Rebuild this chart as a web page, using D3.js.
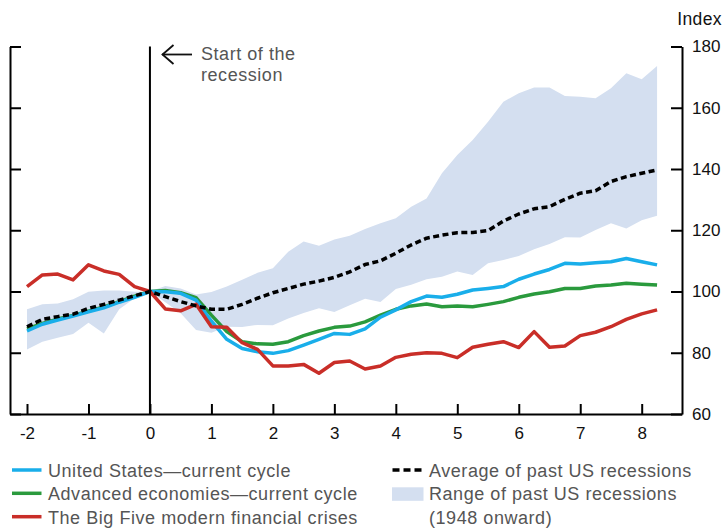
<!DOCTYPE html>
<html>
<head>
<meta charset="utf-8">
<script src="https://cdn.jsdelivr.net/npm/d3@7"></script>
<style>
  html, body { margin: 0; padding: 0; background: #fff; }
  svg { display: block; font-family: "Liberation Sans", Arial, Helvetica, sans-serif; }
</style>
</head>
<body>
<svg id="chart" width="724" height="529"></svg>
<script>
// Quarters relative to start of recession (years)
const quarters = [-2, -1.75, -1.5, -1.25, -1, -0.75, -0.5, -0.25, 0, 0.25, 0.5, 0.75,
  1, 1.25, 1.5, 1.75, 2, 2.25, 2.5, 2.75, 3, 3.25, 3.5, 3.75, 4, 4.25, 4.5, 4.75,
  5, 5.25, 5.5, 5.75, 6, 6.25, 6.5, 6.75, 7, 7.25, 7.5, 7.75, 8, 8.25];

const unitedStates = [87.1, 89.3, 90.7, 92.0, 93.4, 94.7, 96.5, 98.1, 100, 99.9, 99.4, 97.2,
  90.3, 84.4, 81.4, 80.3, 79.8, 80.7, 82.5, 84.4, 86.3, 86.0, 87.8, 91.6, 94.0, 96.7, 98.5, 98.1,
  99.1, 100.5, 101.0, 101.6, 104.0, 105.7, 107.2, 109.2, 109.0, 109.4, 109.7, 110.8, 109.7, 108.7];

const advancedEconomies = [87.8, 89.6, 91.0, 92.2, 93.6, 95.0, 96.7, 98.5, 100, 100.3, 99.6, 98.0,
  92.3, 86.9, 83.6, 82.9, 82.8, 83.6, 85.6, 87.1, 88.3, 88.7, 90.1, 92.3, 94.2, 95.3, 95.9, 95.0,
  95.3, 95.0, 95.8, 96.7, 98.1, 99.2, 99.9, 101.0, 101.0, 101.8, 102.1, 102.7, 102.4, 102.1];

const bigFive = [101.6, 105.4, 105.7, 103.8, 108.7, 106.7, 105.6, 101.6, 100, 94.3, 93.7, 95.8,
  88.5, 88.3, 83.3, 81.1, 75.7, 75.7, 76.2, 73.3, 76.8, 77.3, 74.7, 75.7, 78.5, 79.5, 80.0, 79.8,
  78.4, 81.8, 82.8, 83.6, 81.7, 86.9, 81.8, 82.2, 85.6, 86.7, 88.5, 90.9, 92.7, 94.0];

const pastAverage = [88.5, 90.9, 91.8, 92.6, 94.5, 95.8, 97.2, 98.6, 100, 98.3, 96.7, 95.3,
  94.2, 94.2, 95.8, 97.8, 99.6, 101.0, 102.4, 103.4, 104.6, 106.4, 108.8, 110.0, 112.5, 115.2, 117.4, 118.4,
  119.2, 119.3, 119.9, 123.0, 125.3, 127.0, 127.7, 130.1, 132.1, 132.9, 135.9, 137.5, 138.6, 139.7];

const rangeHigh = [94.2, 95.8, 96.1, 97.5, 99.9, 100.3, 100.3, 99.9, 100, 101.8, 101.0, 99.0,
  99.8, 101.6, 103.8, 106.1, 107.6, 113.0, 116.3, 114.9, 117.0, 118.2, 120.4, 122.3, 123.9, 127.7, 130.4, 138.6,
  144.6, 149.5, 155.4, 162.0, 164.7, 166.6, 166.6, 163.8, 163.6, 163.1, 166.4, 171.3, 169.3, 173.6];

const rangeLow = [81.1, 83.6, 84.9, 86.1, 89.8, 86.3, 94.2, 97.8, 100, 96.5, 92.9, 87.4,
  86.5, 88.5, 88.4, 89.1, 89.0, 91.2, 93.0, 94.5, 93.3, 95.5, 97.6, 96.6, 100.8, 102.2, 104.0, 104.8,
  106.5, 105.4, 109.2, 110.3, 111.6, 113.8, 115.5, 117.7, 117.6, 120.1, 122.3, 120.6, 123.3, 124.7];

const xTicks = [-2, -1, 0, 1, 2, 3, 4, 5, 6, 7, 8];
const yTicks = [60, 80, 100, 120, 140, 160, 180];

const seriesNames = {
  us: "United States\u2014current cycle",
  ae: "Advanced economies\u2014current cycle",
  b5: "The Big Five modern financial crises",
  avg: "Average of past US recessions",
  range1: "Range of past US recessions",
  range2: "(1948 onward)"
};

const colors = { us: "#19aeea", ae: "#2a9a3d", b5: "#c92e28", avg: "#000", band: "#d4dff0" };
const textSize = 18, textSpacing = 0.55, textColor = "#555";

const svg = d3.select("#chart");

const x = d3.scaleLinear().domain([-2, 8]).range([27, 641.7]);
const xAxisLeft = 10, xAxisRight = 682;
const y = d3.scaleLinear().domain([60, 180]).range([414, 46.5]);

// band
const area = d3.area()
  .x((d, i) => x(quarters[i]))
  .y0((d, i) => y(rangeLow[i]))
  .y1((d, i) => y(rangeHigh[i]));
svg.append("path").datum(quarters).attr("d", area).attr("fill", colors.band);

// lines
const line = d3.line().x((d, i) => x(quarters[i])).y(d => y(d));
const addLine = (data, color, dash) => {
  const p = svg.append("path").datum(data).attr("d", line)
    .attr("fill", "none").attr("stroke", color).attr("stroke-width", 3.5)
    .attr("stroke-linejoin", "round");
  if (dash) p.attr("stroke-dasharray", dash);
  return p;
};
addLine(advancedEconomies, colors.ae);
addLine(unitedStates, colors.us);
addLine(bigFive, colors.b5);
addLine(pastAverage, colors.avg, "6,3.5");

// axes
const xAxisScale = d3.scaleLinear()
  .domain([x.invert(xAxisLeft), x.invert(xAxisRight)])
  .range([xAxisLeft, xAxisRight]);
const gx = svg.append("g").attr("transform", `translate(0,${y(60)})`)
  .call(d3.axisBottom(xAxisScale).tickValues(xTicks).tickSizeInner(-10).tickSizeOuter(0).tickPadding(13)
    .tickFormat(d => d < 0 ? "-" + Math.abs(d) : String(d)));
gx.select(".domain").attr("stroke", "#000").attr("stroke-width", 2);
gx.selectAll(".tick line").attr("stroke", "#000").attr("stroke-width", 2);
gx.selectAll(".tick text").attr("font-size", 17).attr("fill", "#111")
  .attr("font-family", "Liberation Sans, Arial, sans-serif");

const gyl = svg.append("g").attr("transform", `translate(${xAxisLeft},0)`)
  .call(d3.axisLeft(y).tickValues(yTicks).tickSizeInner(-11).tickSizeOuter(0).tickFormat(""));
gyl.select(".domain").attr("stroke", "#000").attr("stroke-width", 2);
gyl.selectAll(".tick line").attr("stroke", "#000").attr("stroke-width", 2);

const gyr = svg.append("g").attr("transform", `translate(${xAxisRight},0)`)
  .call(d3.axisRight(y).tickValues(yTicks).tickSizeInner(-11).tickSizeOuter(0).tickPadding(10));
gyr.select(".domain").attr("stroke", "#000").attr("stroke-width", 2);
gyr.selectAll(".tick line").attr("stroke", "#000").attr("stroke-width", 2);
gyr.selectAll(".tick text").attr("font-size", 17).attr("fill", "#111")
  .attr("font-family", "Liberation Sans, Arial, sans-serif");

svg.append("text").attr("x", 722).attr("y", 25).attr("text-anchor", "end")
  .attr("font-size", 17.5).attr("letter-spacing", 0.4).attr("fill", "#111").text("Index");

// recession start line
svg.append("line").attr("x1", x(0)).attr("x2", x(0)).attr("y1", y(180)).attr("y2", y(60))
  .attr("stroke", "#000").attr("stroke-width", 2);

// annotation arrow
const ay = 54.5;
svg.append("line").attr("x1", 162).attr("x2", 192).attr("y1", ay).attr("y2", ay)
  .attr("stroke", "#111").attr("stroke-width", 1.8);
svg.append("path").attr("d", `M173.5,${ay - 9.5} L162.5,${ay} L173.5,${ay + 9.5}`)
  .attr("fill", "none").attr("stroke", "#111").attr("stroke-width", 1.8);
const addText = (tx, ty, s) => svg.append("text").attr("x", tx).attr("y", ty)
  .attr("font-size", textSize).attr("letter-spacing", textSpacing).attr("fill", textColor).text(s);
addText(201, 59.5, "Start of the");
addText(201, 80.5, "recession");

// legend
const legLeft = [
  { key: "us", y: 470 },
  { key: "ae", y: 493.3 },
  { key: "b5", y: 516.7 }
];
legLeft.forEach(d => {
  svg.append("line").attr("x1", 12).attr("x2", 41.5).attr("y1", d.y).attr("y2", d.y)
    .attr("stroke", colors[d.key]).attr("stroke-width", 3.5);
  addText(48, d.y + 6.8, seriesNames[d.key]);
});
svg.append("line").attr("x1", 392.5).attr("x2", 423.5).attr("y1", 470).attr("y2", 470)
  .attr("stroke", "#000").attr("stroke-width", 3.5).attr("stroke-dasharray", "7,4");
addText(429, 476.8, seriesNames.avg);
svg.append("rect").attr("x", 392).attr("y", 487.3).attr("width", 31.5).attr("height", 13.5).attr("fill", colors.band);
addText(429, 500.3, seriesNames.range1);
addText(429, 523.7, seriesNames.range2);
</script>
</body>
</html>
